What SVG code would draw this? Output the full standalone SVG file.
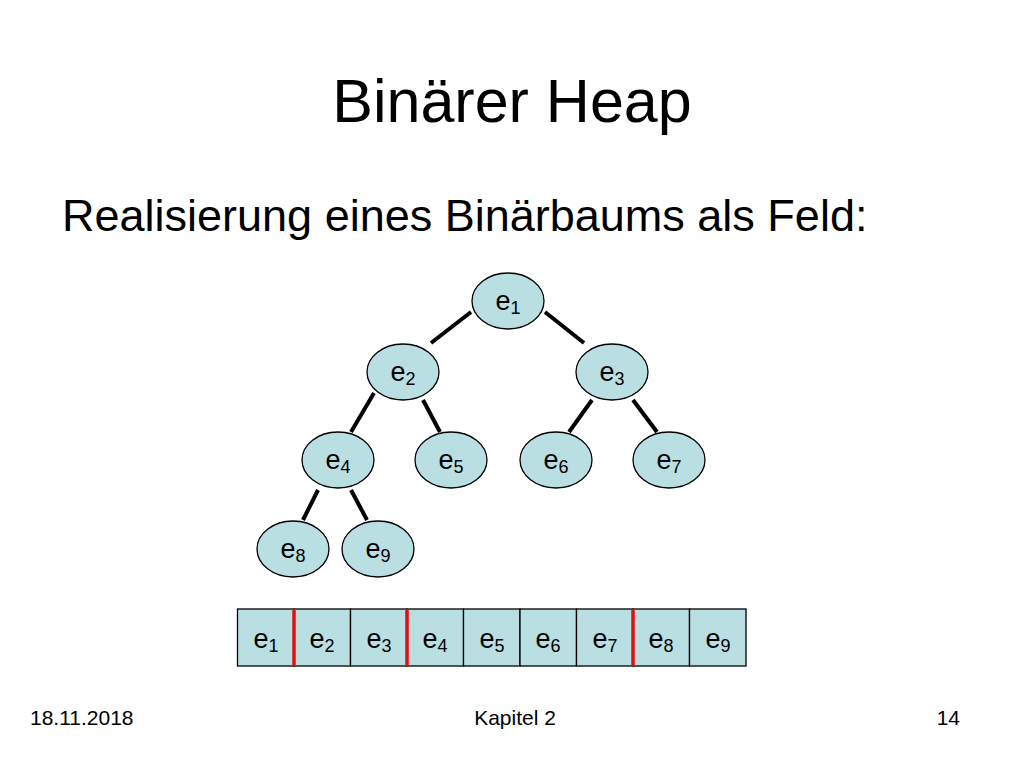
<svg xmlns="http://www.w3.org/2000/svg" width="1024" height="768" viewBox="0 0 1024 768">
<style>
text{font-family:"Liberation Sans",Arial,sans-serif;fill:#000}
.n{fill:#b9dfe3;stroke:#000;stroke-width:1.3}
.l{font-size:27px;text-anchor:middle}
.s{font-size:18px}
.e{stroke:#000;stroke-width:4}
.c{fill:#b9dfe3;stroke:#000;stroke-width:1.3}
.r{stroke:#e01010;stroke-width:3.5}
</style>
<rect width="1024" height="768" fill="#fff"/>
<text x="512" y="122" font-size="61" text-anchor="middle">Binärer Heap</text>
<text x="62" y="231" font-size="45">Realisierung eines Binärbaums als Feld:</text>
<g id="connectors">
<line class="e" x1="471" y1="312" x2="431" y2="343"/>
<line class="e" x1="545" y1="312" x2="584" y2="343"/>
<line class="e" x1="374" y1="393" x2="351" y2="432"/>
<line class="e" x1="423" y1="400" x2="440" y2="432"/>
<line class="e" x1="592" y1="400" x2="569" y2="432"/>
<line class="e" x1="633" y1="400" x2="657" y2="432"/>
<line class="e" x1="318" y1="490" x2="303" y2="520"/>
<line class="e" x1="351" y1="490" x2="367" y2="520"/>
</g>
<g id="n1"><ellipse class="n" cx="508" cy="301" rx="36" ry="28"/><text class="l" x="508" y="310">e<tspan class="s" dy="4">1</tspan></text></g>
<g id="n2"><ellipse class="n" cx="403" cy="372" rx="36" ry="28"/><text class="l" x="403" y="381">e<tspan class="s" dy="4">2</tspan></text></g>
<g id="n3"><ellipse class="n" cx="612" cy="372" rx="36" ry="28"/><text class="l" x="612" y="381">e<tspan class="s" dy="4">3</tspan></text></g>
<g id="n4"><ellipse class="n" cx="338" cy="460" rx="36" ry="28"/><text class="l" x="338" y="469">e<tspan class="s" dy="4">4</tspan></text></g>
<g id="n5"><ellipse class="n" cx="451" cy="460" rx="36" ry="28"/><text class="l" x="451" y="469">e<tspan class="s" dy="4">5</tspan></text></g>
<g id="n6"><ellipse class="n" cx="556" cy="460" rx="36" ry="28"/><text class="l" x="556" y="469">e<tspan class="s" dy="4">6</tspan></text></g>
<g id="n7"><ellipse class="n" cx="669" cy="460" rx="36" ry="28"/><text class="l" x="669" y="469">e<tspan class="s" dy="4">7</tspan></text></g>
<g id="n8"><ellipse class="n" cx="293" cy="549" rx="36" ry="28"/><text class="l" x="293" y="558">e<tspan class="s" dy="4">8</tspan></text></g>
<g id="n9"><ellipse class="n" cx="378" cy="549" rx="36" ry="28"/><text class="l" x="378" y="558">e<tspan class="s" dy="4">9</tspan></text></g>
<g id="array">
<rect class="c" x="237.5" y="609" width="56.5" height="57"/>
<rect class="c" x="294" y="609" width="56.5" height="57"/>
<rect class="c" x="350.5" y="609" width="56.5" height="57"/>
<rect class="c" x="407" y="609" width="56.5" height="57"/>
<rect class="c" x="463.5" y="609" width="56.5" height="57"/>
<rect class="c" x="520" y="609" width="56.5" height="57"/>
<rect class="c" x="576.5" y="609" width="56.5" height="57"/>
<rect class="c" x="633" y="609" width="56.5" height="57"/>
<rect class="c" x="689.5" y="609" width="56.5" height="57"/>
<line class="r" x1="294" y1="609" x2="294" y2="666"/>
<line class="r" x1="407" y1="609" x2="407" y2="666"/>
<line class="r" x1="633" y1="609" x2="633" y2="666"/>
<text class="l" x="266" y="648">e<tspan class="s" dy="4">1</tspan></text>
<text class="l" x="322" y="648">e<tspan class="s" dy="4">2</tspan></text>
<text class="l" x="379" y="648">e<tspan class="s" dy="4">3</tspan></text>
<text class="l" x="435" y="648">e<tspan class="s" dy="4">4</tspan></text>
<text class="l" x="492" y="648">e<tspan class="s" dy="4">5</tspan></text>
<text class="l" x="548" y="648">e<tspan class="s" dy="4">6</tspan></text>
<text class="l" x="605" y="648">e<tspan class="s" dy="4">7</tspan></text>
<text class="l" x="661" y="648">e<tspan class="s" dy="4">8</tspan></text>
<text class="l" x="718" y="648">e<tspan class="s" dy="4">9</tspan></text>
</g>
<text x="30" y="725" font-size="21">18.11.2018</text>
<text x="515" y="725" font-size="21" text-anchor="middle">Kapitel 2</text>
<text x="960" y="725" font-size="21" text-anchor="end">14</text>
</svg>
